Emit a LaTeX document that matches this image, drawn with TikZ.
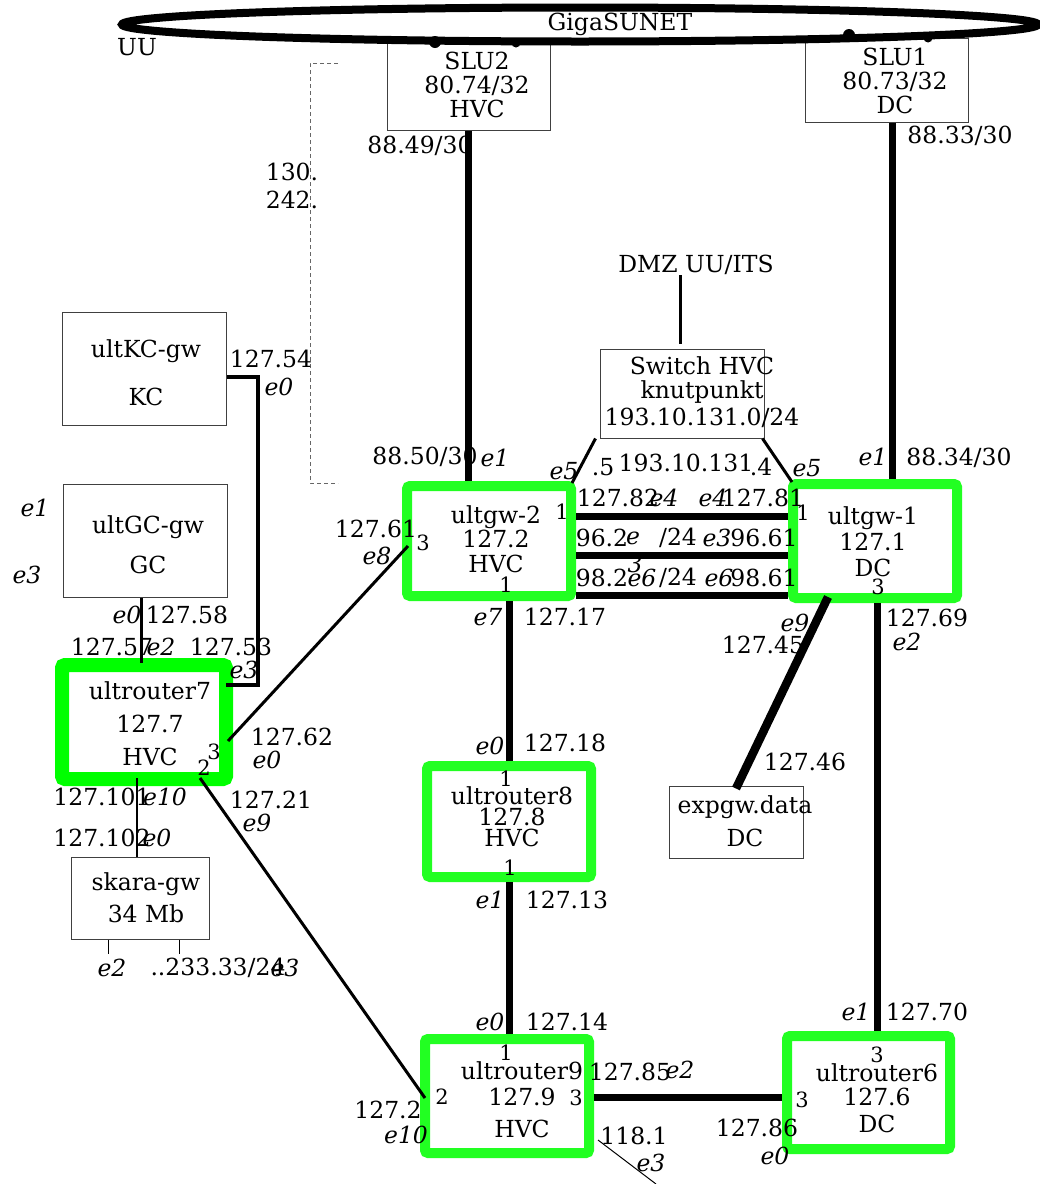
\documentclass[tikz,border=0pt]{standalone}
\usepackage{fontspec}
\setmainfont{DejaVu Serif}
\usepackage{tikz}
\usetikzlibrary{shapes.geometric}
\definecolor{routergreen}{HTML}{22FF22}
\definecolor{boxgray}{HTML}{404040}

\begin{document}
\begin{tikzpicture}[x=1pt,y=-1pt,
  every node/.style={font=\fontsize{23.5}{25}\selectfont,inner sep=0pt,align=center},
  plainbox/.style={draw=boxgray,line width=1pt},
  router/.style={draw=routergreen,line width=10pt,rounded corners=3pt,minimum width=164pt,minimum height=112pt},
  ring/.style={draw,ellipse,line width=8pt,minimum width=916pt,minimum height=34pt},
  dot/.style={circle,fill,minimum size=#1},
  eif/.style={font=\fontsize{23.5}{25}\selectfont\itshape},
  port/.style={font=\fontsize{21}{23}\selectfont},
  trunk/.style={line width=7pt},
  thinlink/.style={line width=3pt}]
  \useasboundingbox (0,0) rectangle (1040,1184);

  % plain boxes
  \node[plainbox,minimum width=163pt,minimum height=88pt] (slu2) at (468.5,86) {};
  \node[plainbox,minimum width=163pt,minimum height=84pt] (slu1) at (886.5,80) {};
  \node[plainbox,minimum width=164pt,minimum height=89pt] (sw) at (682,393.5) {};
  \node[plainbox,minimum width=164pt,minimum height=113pt] (kc) at (144,368.5) {};
  \node[plainbox,minimum width=164pt,minimum height=113pt] (gc) at (145,540.5) {};
  \node[plainbox,minimum width=138pt,minimum height=82pt] (skara) at (140,898) {};
  \node[plainbox,minimum width=134pt,minimum height=72pt] (expgw) at (736,822) {};

  % routers
  \node[router,minimum height=110pt] (gw2) at (489,541) {};
  \node[router,minimum height=114pt] (gw1) at (875,541) {};
  \node[router,minimum height=111pt] (ur8) at (509,821.5) {};
  \node[router,minimum height=114pt] (ur9) at (507,1096) {};
  \node[router,minimum width=163pt,minimum height=113pt] (ur6) at (868.5,1092.5) {};
  \node[router,draw=green,line width=14pt,minimum height=114pt] (ur7) at (144,722) {};

  % GigaSUNET ring
  \node[ring] (giga) at (580,24.5) {};
  \node (gigat) at (620,24) {GigaSUNET};
  \node (uu) at (137,47) {UU};
  \node[dot=12pt] (d1) at (435,42) {};
  \node[dot=9pt] (d2) at (516,43) {};
  \node[dot=12pt] (d3) at (849,35) {};
  \node[dot=9pt] (d4) at (928,38) {};

  % box texts
  \node (slu2t) at (477,85) {SLU2\\[-0.5pt]80.74/32\\[-1pt]HVC};
  \node (slu1t) at (895,81) {SLU1\\[-1pt]80.73/32\\[-1pt]DC};
  \node (swt) at (702,392) {Switch HVC\\[-1pt]knutpunkt\\[2pt]193.10.131.0/24};
  \node (kct) at (146,373) {ultKC-gw\\[23pt]KC};
  \node (gct) at (148,545) {ultGC-gw\\[15pt]GC};
  \node (gw2t) at (496,539) {ultgw-2\\[-0.5pt]127.2\\[-0.5pt]HVC};
  \node (gw1t) at (873,542) {ultgw-1\\[1pt]127.1\\[1pt]DC};
  \node (ur8t) at (512,817) {ultrouter8\\[-4pt]127.8\\[-4pt]HVC};
  \node (ur9t) at (522,1100) {ultrouter9\\[1pt]127.9\\[7pt]HVC};
  \node (ur6t) at (877,1098) {ultrouter6\\[-1pt]127.6\\[2pt]DC};
  \node (ur7t) at (150,724) {ultrouter7\\[8pt]127.7\\[8pt]HVC};
  \node (skarat) at (146,898) {skara-gw\\[7pt]34 Mb};
  \node (expgwt) at (745,821) {expgw.data\\[8pt]DC};
  \node (dmz) at (696,265) {DMZ UU/ITS};

  % links
  \draw[trunk] (slu2.south) -- (slu2.south |- gw2.north);
  \draw[trunk] ([xshift=5.5pt]slu1.south) -- ([xshift=5.5pt]slu1.south |- gw1.north);
  \draw[trunk] (gw2.east |- 0,516.7) -- (gw1.west |- 0,516.7);
  \draw[trunk] (gw2.east |- 0,555.7) -- (gw1.west |- 0,555.7);
  \draw[trunk] (gw2.east |- 0,595.7) -- (gw1.west |- 0,595.7);
  \draw[thinlink] ([xshift=-4pt]sw.south west) -- ([xshift=-4pt,yshift=-2pt]gw2.north east);
  \draw[thinlink] ([xshift=-2pt]sw.south east) -- ([xshift=4pt,yshift=-3pt]gw1.north west);
  \draw[thinlink] ([xshift=-2pt]sw.north |- dmz.south) -- ([xshift=-2pt,yshift=5pt]sw.north);
  \draw[trunk] (ur8.north |- gw2.south) -- (ur8.north);
  \draw[trunk] (ur8.south) -- (ur8.south |- ur9.north);
  \draw[trunk] (ur9.east |- 0,1097) -- (ur6.west |- 0,1097);
  \draw[trunk] ([xshift=2pt]gw1.south) -- ([xshift=2pt]gw1.south |- ur6.north);
  \draw[line width=8.5pt] ([xshift=40pt,yshift=6pt]gw1.south west) -- ([yshift=-3pt]expgw.north);
  \draw[thinlink] ([xshift=-5pt,yshift=-19pt]ur7.east) -- ([xshift=6pt,yshift=-5pt]gw2.west);
  \draw[thinlink] ([xshift=-33pt,yshift=8pt]ur7.south east) -- ([xshift=5pt,yshift=-2pt]ur9.west);
  \coordinate (offpage) at (656,1184);
  \draw[line width=1pt] ([xshift=4pt,yshift=18pt]ur9.south east) -- (offpage);
  \draw[line width=4pt] ([yshift=-8.5pt]kc.east) -- ++(31,0) |- ([xshift=-7pt,yshift=37pt]ur7.east);
  \draw[thinlink] ([xshift=-4pt]gc.south) -- ([xshift=-4pt,yshift=-5pt]gc.south |- ur7.north);
  \draw[line width=2pt] ([xshift=-3pt]skara.north |- 0,778) -- ([xshift=-3pt]skara.north);
  \draw[line width=1pt] ([xshift=-32pt]skara.south) -- ++(0,14);
  \draw[line width=1pt] ([xshift=39pt]skara.south) -- ++(0,14);
  \draw[dash pattern=on 4pt off 3pt,black!60,line width=1pt] (338,63) -- (310,63) -- (310,483) -- (338,483);

  % addresses
  \node (a8849) at (420,146) {88.49/30};
  \node (a8833) at (960,136) {88.33/30};
  \node (a130) at (292,172) {130.};
  \node (a242) at (292,200) {242.};
  \node (a8850) at (425,457) {88.50/30};
  \node (a8834) at (959,458) {88.34/30};
  \node (adot5) at (603,467) {.5};
  \node (a19310) at (686,463) {193.10.131};
  \node (adot4) at (761,467) {.4};
  \node (a12782) at (618,498) {127.82};
  \node (a12781) at (763,498) {127.81};
  \node (a962) at (602,538) {96.2};
  \node (a24a) at (678,538) {/24};
  \node (a9661) at (764,538) {96.61};
  \node (a982) at (602,578) {98.2};
  \node (a24b) at (678,578) {/24};
  \node (a9861) at (764,578) {98.61};
  \node (a12754) at (271,359) {127.54};
  \node (a12761) at (376,529) {127.61};
  \node (a12758) at (187,615) {127.58};
  \node (a12757) at (112,647) {127.57};
  \node (a12753) at (231,647) {127.53};
  \node (a12762) at (292,737) {127.62};
  \node (a12721) at (271,800) {127.21};
  \node (a127101) at (102,797) {127.101};
  \node (a127102) at (102,838) {127.102};
  \node (a23333) at (218,968) {..233.33/24};
  \node (a12717) at (565,617) {127.17};
  \node (a12718) at (565,743) {127.18};
  \node (a12769) at (927,618) {127.69};
  \node (a12745) at (763,645) {127.45};
  \node (a12746) at (805,762) {127.46};
  \node (a12713) at (567,900) {127.13};
  \node (a12714) at (567,1022) {127.14};
  \node (a12770) at (927,1012) {127.70};
  \node (a12785) at (630,1072) {127.85};
  \node (a12786) at (757,1128) {127.86};
  \node (a1272) at (388,1110) {127.2};
  \node (a1181) at (634,1136) {118.1};

  % interfaces
  \node[eif] (i1) at (495,458) {e1};
  \node[eif] (i2) at (564,471) {e5};
  \node[eif] (i3) at (807,468) {e5};
  \node[eif] (i4) at (873,457) {e1};
  \node[eif] (i5) at (664,498) {e4};
  \node[eif] (i6) at (713,498) {e4};
  \node[eif] (i7) at (633,538) {e};
  \node[eif] (i8) at (635,564) {3};
  \node[eif] (i9) at (717,538) {e3};
  \node[eif] (i10) at (642,578) {e6};
  \node[eif] (i11) at (719,578) {e6};
  \node[eif] (i12) at (279,387) {e0};
  \node[eif] (i13) at (35,508) {e1};
  \node[eif] (i14) at (27,575) {e3};
  \node[eif] (i15) at (377,556) {e8};
  \node[eif] (i16) at (127,615) {e0};
  \node[eif] (i17) at (161,647) {e2};
  \node[eif] (i18) at (244,670) {e3};
  \node[eif] (i19) at (267,760) {e0};
  \node[eif] (i20) at (257,823) {e9};
  \node[eif] (i21) at (165,797) {e10};
  \node[eif] (i22) at (157,838) {e0};
  \node[eif] (i23) at (112,968) {e2};
  \node[eif] (i24) at (285,968) {e3};
  \node[eif] (i25) at (488,617) {e7};
  \node[eif] (i26) at (490,746) {e0};
  \node[eif] (i27) at (795,623) {e9};
  \node[eif] (i28) at (907,642) {e2};
  \node[eif] (i29) at (490,900) {e1};
  \node[eif] (i30) at (490,1022) {e0};
  \node[eif] (i31) at (856,1012) {e1};
  \node[eif] (i32) at (680,1070) {e2};
  \node[eif] (i33) at (775,1156) {e0};
  \node[eif] (i34) at (406,1135) {e10};
  \node[eif] (i35) at (651,1163) {e3};

  % ports
  \node[port] (p1) at (562,512) {1};
  \node[port] (p2) at (423,543) {3};
  \node[port] (p3) at (506,585) {1};
  \node[port] (p4) at (803,513) {1};
  \node[port] (p5) at (878,587) {3};
  \node[port] (p6) at (506,779) {1};
  \node[port] (p7) at (510,868) {1};
  \node[port] (p8) at (506,1053) {1};
  \node[port] (p9) at (442,1097) {2};
  \node[port] (p10) at (576,1098) {3};
  \node[port] (p11) at (877,1055) {3};
  \node[port] (p12) at (802,1100) {3};
  \node[port] (p13) at (214,752) {3};
  \node[port] (p14) at (204,768) {2};
\end{tikzpicture}
\end{document}
